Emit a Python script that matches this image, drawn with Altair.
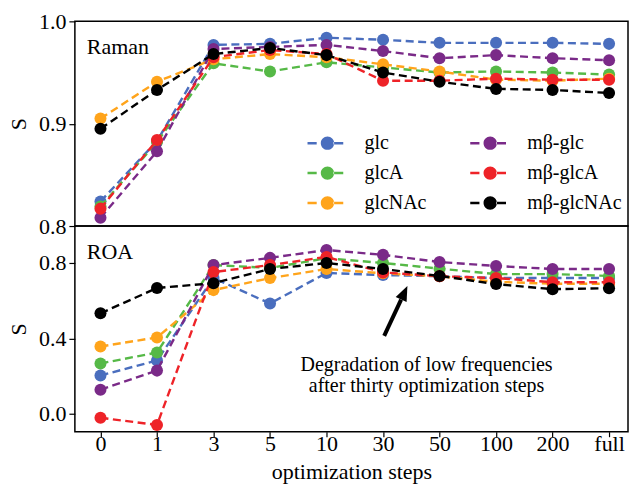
import json
import altair as alt
import pandas as pd

# x categories (optimization steps) and molecule series
steps = ["0", "1", "3", "5", "10", "30", "50", "100", "200", "full"]
series = ["glc", "glcA", "glcNAc", "mβ-glc", "mβ-glcA", "mβ-glcNAc"]
colors = ["#4a6ebe", "#56b947", "#ffa41b", "#7a2a88", "#ee2328", "#000000"]

# Raman spectral similarity S per optimization step
raman_glc = [0.824, 0.883, 0.977, 0.978, 0.984, 0.982, 0.979, 0.979, 0.979, 0.978]
raman_glcA = [0.819, 0.882, 0.959, 0.951, 0.960, 0.955, 0.950, 0.951, 0.950, 0.948]
raman_glcNAc = [0.905, 0.941, 0.963, 0.968, 0.965, 0.958, 0.951, 0.943, 0.942, 0.944]
raman_mglc = [0.808, 0.873, 0.973, 0.975, 0.977, 0.971, 0.964, 0.967, 0.964, 0.962]
raman_mglcA = [0.817, 0.884, 0.965, 0.972, 0.968, 0.942, 0.942, 0.944, 0.943, 0.943]
raman_mglcNAc = [0.895, 0.933, 0.968, 0.974, 0.967, 0.950, 0.941, 0.934, 0.933, 0.930]

# ROA spectral similarity S per optimization step
roa_glc = [0.203, 0.283, 0.720, 0.585, 0.747, 0.736, 0.730, 0.720, 0.720, 0.720]
roa_glcA = [0.267, 0.325, 0.789, 0.774, 0.825, 0.800, 0.770, 0.741, 0.741, 0.731]
roa_glcNAc = [0.357, 0.405, 0.656, 0.720, 0.768, 0.745, 0.730, 0.700, 0.690, 0.690]
roa_mglc = [0.128, 0.229, 0.789, 0.827, 0.869, 0.843, 0.805, 0.784, 0.768, 0.768]
roa_mglcA = [-0.021, -0.059, 0.752, 0.789, 0.832, 0.750, 0.730, 0.720, 0.698, 0.698]
roa_mglcNAc = [0.533, 0.667, 0.693, 0.768, 0.800, 0.768, 0.731, 0.688, 0.661, 0.666]

raman_rows = [raman_glc, raman_glcA, raman_glcNAc, raman_mglc, raman_mglcA, raman_mglcNAc]
roa_rows = [roa_glc, roa_glcA, roa_glcNAc, roa_mglc, roa_mglcA, roa_mglcNAc]

# annotation text and arrow (data units of the ROA panel)
note_lines = ["Degradation of low frequencies", "after thirty optimization steps"]
note_x = [5.77, 5.77]
note_y = [0.228, 0.117]
arrow_tail = [5.02, 0.413]
arrow_base = [5.32, 0.606]
arrow_head = [5.376, 0.642]
arrow_angle = 24.7

FONT = "Liberation Serif"


def long_table(rows):
    recs = []
    for name, vals in zip(series, rows):
        for i, (step, v) in enumerate(zip(steps, vals)):
            recs.append({"idx": i, "step": step, "series": name, "S": v})
    return pd.DataFrame(recs)


raman_df = long_table(raman_rows)
roa_df = long_table(roa_rows)

x_scale = alt.Scale(domain=[-0.453, 9.335], nice=False, zero=False)
label_expr = json.dumps(steps) + "[datum.value]"

color_scale = alt.Scale(domain=series, range=colors)

# legend swatch: dashed stroke with a dot in the middle
swatch = ("M-1,-0.0625H-0.54V0.0625H-1Z "
          "M0.3,-0.0625H0.79V0.0625H0.3Z "
          "M-0.335,0A0.335,0.335 0 1,0 0.335,0A0.335,0.335 0 1,0 -0.335,0Z")

legend = alt.Legend(
    orient="none", legendX=233, legendY=102, columns=2, title=None,
    symbolType=swatch, symbolSize=1600, symbolStrokeWidth=0, symbolOpacity=1,
    labelFont=FONT, labelFontSize=20, labelColor="black", labelOffset=17,
    columnPadding=43, rowPadding=-3, padding=0,
)


def y_axis(ticks):
    return alt.Axis(values=ticks, format=".1f", title="S", grid=False, domain=False,
                    tickSize=6, tickWidth=1.2, tickColor="black",
                    labelFont=FONT, labelFontSize=22, labelColor="black", labelPadding=3,
                    titleFont=FONT, titleFontSize=22, titleFontWeight="normal",
                    titleColor="black", titlePadding=8)


x_axis_bottom = alt.Axis(values=list(range(10)), labelExpr=label_expr, grid=False, domain=False,
                         tickSize=5, tickWidth=1.2, tickColor="black",
                         labelFont=FONT, labelFontSize=22, labelColor="black", labelPadding=-3,
                         labelFlush=False, labelOverlap=False,
                         title="optimization steps", titleFont=FONT, titleFontSize=22,
                         titleFontWeight="normal", titleColor="black", titlePadding=7)


def panel(df, y_domain, y_ticks, name, with_legend, x_axis):
    ysc = alt.Scale(domain=y_domain, nice=False, zero=False)
    layers = []
    for s, col in zip(series, colors):
        base = alt.Chart(df[df.series == s]).encode(
            x=alt.X("idx:Q", scale=x_scale, axis=x_axis),
            y=alt.Y("S:Q", scale=ysc, axis=y_axis(y_ticks)),
        )
        layers.append(base.mark_line(color=col, strokeDash=[8, 4.5], strokeWidth=2.4))
        if with_legend:
            pts = base.mark_point(filled=True, size=145, opacity=1, shape="circle").encode(
                color=alt.Color("series:N", scale=color_scale, legend=legend))
        else:
            pts = base.mark_point(filled=True, size=145, opacity=1, shape="circle", color=col)
        layers.append(pts)
    tag = alt.Chart(pd.DataFrame({"panel": [name]})).mark_text(
        align="left", baseline="alphabetic", font=FONT, fontSize=22, color="black"
    ).encode(text="panel:N", x=alt.value(12), y=alt.value(33))
    layers.append(tag)
    return layers


top_layers = panel(raman_df, [0.8, 1.0], [0.8, 0.9, 1.0], "Raman", True, None)
bottom_layers = panel(roa_df, [-0.095, 0.996], [0.0, 0.4, 0.8], "ROA", False, x_axis_bottom)

ysc_roa = alt.Scale(domain=[-0.095, 0.996], nice=False, zero=False)

note_df = pd.DataFrame({"x": note_x, "y": note_y, "text": note_lines})
note = alt.Chart(note_df).mark_text(
    align="center", baseline="alphabetic", font=FONT, fontSize=20, color="black"
).encode(x=alt.X("x:Q", scale=x_scale), y=alt.Y("y:Q", scale=ysc_roa), text="text:N")

shaft_df = pd.DataFrame({"x": [arrow_tail[0]], "y": [arrow_tail[1]],
                         "x2": [arrow_base[0]], "y2": [arrow_base[1]]})
shaft = alt.Chart(shaft_df).mark_rule(color="black", strokeWidth=4).encode(
    x=alt.X("x:Q", scale=x_scale), y=alt.Y("y:Q", scale=ysc_roa), x2="x2:Q", y2="y2:Q")

head_df = pd.DataFrame({"x": [arrow_head[0]], "y": [arrow_head[1]]})
head = alt.Chart(head_df).mark_point(
    shape="M0,-1L0.8,1L-0.8,1Z", size=225, filled=True, opacity=1, color="black",
    angle=arrow_angle
).encode(x=alt.X("x:Q", scale=x_scale), y=alt.Y("y:Q", scale=ysc_roa))

top = alt.layer(*top_layers).properties(width=554, height=205)
bottom = alt.layer(*bottom_layers, note, shaft, head).properties(width=554, height=206)

chart = (
    alt.vconcat(top, bottom, spacing=0, bounds="flush")
    .resolve_scale(x="independent", y="independent", color="independent")
    .properties(padding={"left": 6, "top": 9, "right": 1, "bottom": 0}, background="white")
    .configure_view(stroke="black", strokeWidth=1.5)
)

chart.save("out.html", embed_options={"renderer": "svg", "actions": False})
